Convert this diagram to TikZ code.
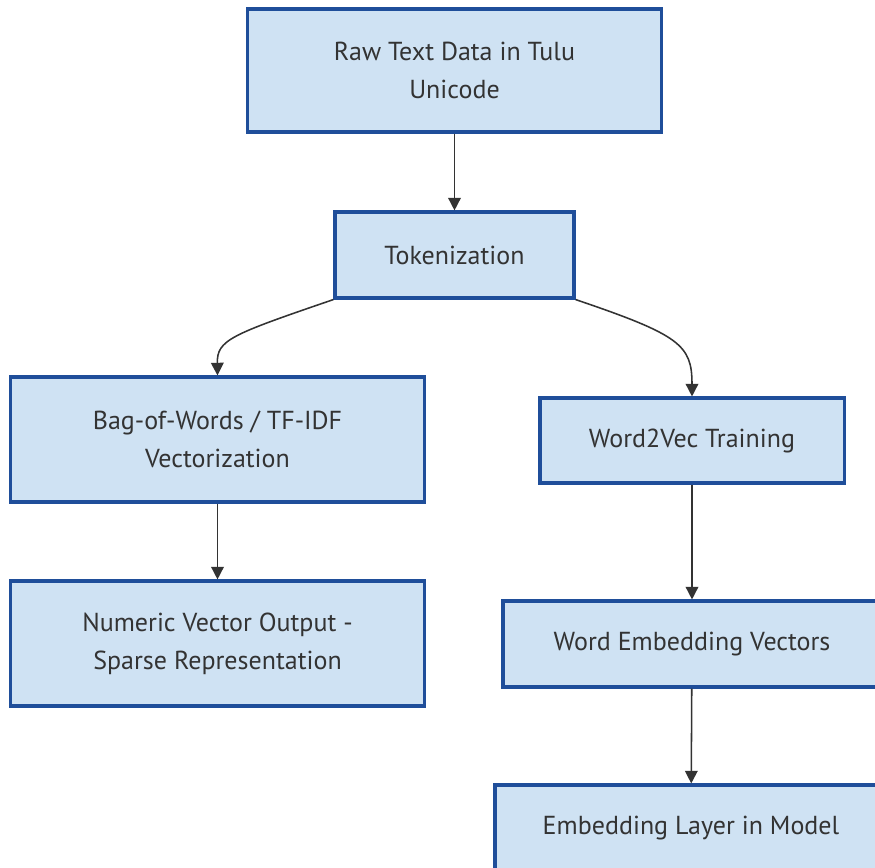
\documentclass[tikz,border=0pt]{standalone}
\usepackage{fontspec}
\setmainfont{PT Sans}
\usetikzlibrary{arrows.meta}
\definecolor{boxfill}{HTML}{CFE2F3}
\definecolor{boxline}{HTML}{1F4E9A}
\definecolor{txt}{HTML}{333333}
\tikzset{
	stagebox/.style={draw=boxline,fill=boxfill,line width=2.2pt,text=txt,align=center,font=\fontsize{18.5}{27}\selectfont,inner sep=0},
	flow/.style={draw=txt,line width=1.1pt,-{Triangle[length=9pt,width=9pt]}}
}

\begin{document}
\begin{tikzpicture}[x=0.025cm,y=-0.025cm]
	\useasboundingbox (0,0) rectangle (875,868);
	\clip (0,0) rectangle (875,868);
	\node[stagebox,minimum width=10.325cm,minimum height=3.075cm] (raw) at (454.5,70.5) {Raw Text Data in Tulu\\Unicode};
	\node[stagebox,minimum width=5.975cm,minimum height=2.15cm] (tok) at (454.5,255) {Tokenization};
	\node[stagebox,minimum width=10.325cm,minimum height=3.125cm] (bow) at (217.5,439.5) {Bag-of-Words / TF-IDF\\Vectorization};
	\node[stagebox,minimum width=7.6cm,minimum height=2.125cm] (w2v) at (692,440.5) {Word2Vec Training};
	\node[stagebox,minimum width=10.325cm,minimum height=3.125cm] (num) at (217.5,643.5) {Numeric Vector Output -\\Sparse Representation};
	\node[stagebox,minimum width=9.45cm,minimum height=2.15cm] (wev) at (692,644) {Word Embedding Vectors};
	\node[stagebox,minimum width=9.8cm,minimum height=2.15cm] (eml) at (691,828) {Embedding Layer in Model};
	\draw[flow] (raw) -- (tok);
	\draw[flow] (tok.south west) .. controls (230,335) and (217,340) .. (bow.north);
	\draw[flow] (tok.south east) .. controls (680,335) and (692,345) .. (w2v.north);
	\draw[flow] (bow) -- (num);
	\draw[flow] (w2v) -- (wev);
	\draw[flow] (wev) -- (eml);
\end{tikzpicture}
\end{document}
